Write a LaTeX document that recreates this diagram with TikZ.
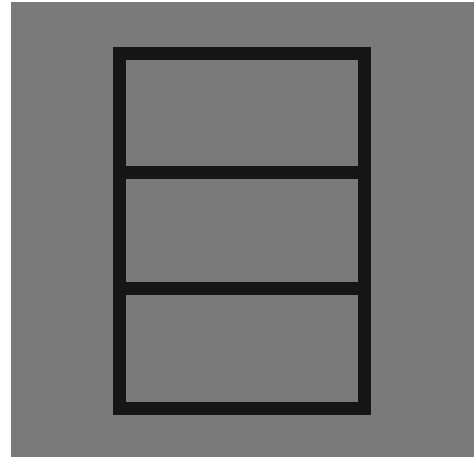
\documentclass[tikz,border=0pt]{standalone}
\usepackage{tikz}
\usetikzlibrary{positioning}
\definecolor{panelgrey}{RGB}{122,122,122}
\definecolor{framedark}{RGB}{22,22,22}

\begin{document}
\begin{tikzpicture}[
    x=0.02cm, y=-0.02cm,
    panel/.style={fill=panelgrey, draw=none},
    frame/.style={draw=framedark, line width=0.26cm, line join=miter}
]
\useasboundingbox (0,0) rectangle (475,461);
% background panel
\fill[panel] (11,2) rectangle (474,457);
% outer frame and shelf dividers
\draw[frame] (119.5,53) rectangle (364,408);
\draw[frame] (119.5,172.5) -- (364,172.5);
\draw[frame] (119.5,288.5) -- (364,288.5);
\end{tikzpicture}
\end{document}
